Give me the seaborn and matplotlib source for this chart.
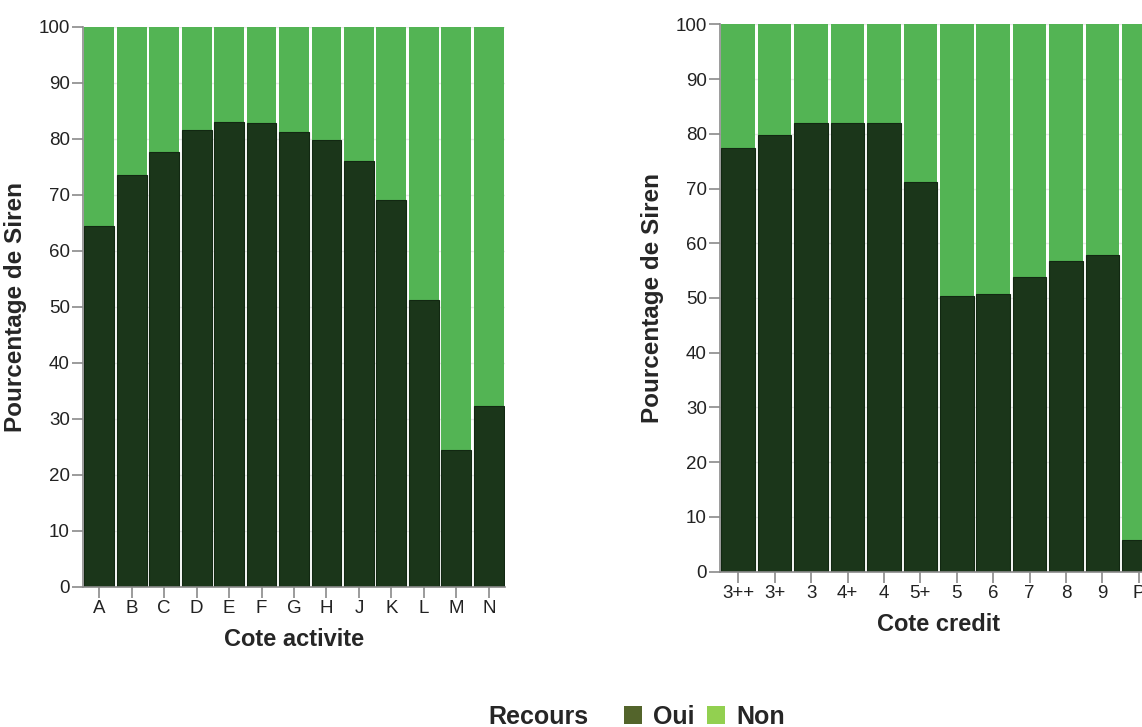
import numpy as np
import pandas as pd
import matplotlib
matplotlib.use("Agg")
import matplotlib.pyplot as plt
import seaborn as sns
from matplotlib.patches import Patch

# values (percent of Siren)
cote_activite = ["A", "B", "C", "D", "E", "F", "G", "H", "J", "K", "L", "M", "N"]
activite_oui = [64.5, 73.5, 77.6, 81.5, 83.1, 82.8, 81.2, 79.8, 76.1, 69.0, 51.2, 24.5, 32.3]
activite_non = [35.5, 26.5, 22.4, 18.5, 16.9, 17.2, 18.8, 20.2, 23.9, 31.0, 48.8, 75.5, 67.7]

cote_credit = ["3++", "3+", "3", "4+", "4", "5+", "5", "6", "7", "8", "9", "P"]
credit_oui = [77.4, 79.8, 81.9, 81.9, 81.9, 71.1, 50.4, 50.7, 53.8, 56.8, 57.8, 5.8]
credit_non = [22.6, 20.2, 18.1, 18.1, 18.1, 28.9, 49.6, 49.3, 46.2, 43.2, 42.2, 94.2]

dark = "#1b361a"
light = "#53b454"
legend_oui = "#53642b"
legend_non = "#92d050"

sns.set_style("white")
plt.rcParams["font.family"] = ["Liberation Sans", "DejaVu Sans"]

fig = plt.figure(figsize=(11.42, 7.27), dpi=100)
ax1 = fig.add_axes([0.0727, 0.193, 0.3695, 0.770])
ax2 = fig.add_axes([0.6305, 0.2136, 0.3827, 0.753])


def stacked(ax, cats, oui, non, xlabel):
    df = pd.DataFrame({"cote": cats, "oui": oui, "non": non})
    df["total"] = df["oui"] + df["non"]
    ax.set_axisbelow(True)
    ax.yaxis.grid(True, color="#e8e8e8", linewidth=1)
    sns.barplot(data=df, x="cote", y="total", order=cats, color=light,
                saturation=1, width=0.92, linewidth=0, ax=ax)
    sns.barplot(data=df, x="cote", y="oui", order=cats, color=dark,
                saturation=1, width=0.92, edgecolor="#122812", linewidth=0.8, ax=ax)
    ax.set_ylim(0, 100)
    ax.set_yticks(np.arange(0, 101, 10))
    ax.set_xlabel(xlabel, fontsize=17, fontweight="bold", labelpad=8)
    ax.set_ylabel("Pourcentage de Siren", fontsize=17.5, fontweight="bold", labelpad=8)
    for s in ["top", "right"]:
        ax.spines[s].set_visible(False)
    for s in ["left", "bottom"]:
        ax.spines[s].set_color("#8a8a8a")
        ax.spines[s].set_linewidth(1.2)
    ax.tick_params(axis="both", which="major", length=8, width=1.2, color="#8a8a8a",
                   labelsize=13.5, labelcolor="#222222", pad=1.5, left=True, bottom=True)


stacked(ax1, cote_activite, activite_oui, activite_non, "Cote activite")
stacked(ax2, cote_credit, credit_oui, credit_non, "Cote credit")

fig.text(488 / 1142, 1 - 717 / 727, "Recours", fontsize=18, fontweight="bold",
         ha="left", va="center")
handles = [Patch(facecolor=legend_oui, edgecolor="none", label="Oui"),
           Patch(facecolor=legend_non, edgecolor="none", label="Non")]
fig.legend(handles=handles, loc="center left", bbox_to_anchor=(624 / 1142, 1 - 717 / 727),
           ncol=2, frameon=False, prop={"size": 18, "weight": "bold"},
           handlelength=0.72, handleheight=0.72, handletextpad=0.44,
           columnspacing=0.5, borderpad=0, borderaxespad=0)

fig.savefig("out.png", dpi=100)
